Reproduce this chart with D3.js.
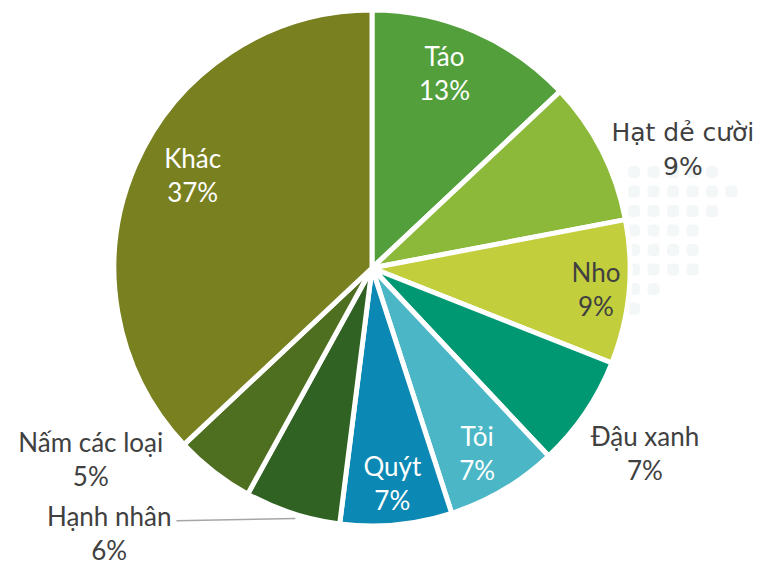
<!DOCTYPE html>
<html>
<head>
<meta charset="utf-8">
<script src="https://cdn.jsdelivr.net/npm/d3@7"></script>
<style>
  body { margin: 0; background: #fff; }
  svg { display: block; }
</style>
</head>
<body>
<svg id="chart" width="764" height="566"></svg>
<script>
'use strict';

// data, clockwise from 12 o'clock
var categories = ['Táo', 'Hạt dẻ cười', 'Nho', 'Đậu xanh', 'Tỏi', 'Quýt', 'Hạnh nhân', 'Nấm các loại', 'Khác'];
var shares = [13, 9, 9, 7, 7, 7, 6, 5, 37];
var colors = ['#529f3b', '#8cb93a', '#c2ce3c', '#009872', '#4ab6c6', '#0b88b3', '#306224', '#4f6f20', '#788020'];

// label layout: radius and angle nudge (degrees)
var labelStyle = {
  'Táo': {r: 208, nudge: -3, fill: '#fff'},
  'Hạt dẻ cười': {r: 333, nudge: 6, fill: '#404040', big: true},
  'Nho': {r: 225, nudge: 0, fill: '#404040'},
  'Đậu xanh': {r: 330, nudge: 0, fill: '#404040'},
  'Tỏi': {r: 213, nudge: 1, fill: '#fff'},
  'Quýt': {r: 216, nudge: 0, fill: '#fff'},
  'Hạnh nhân': {r: 373, nudge: 26.8, fill: '#404040', leader: true},
  'Nấm các loại': {r: 340, nudge: 18, fill: '#404040'},
  'Khác': {r: 202, nudge: 4, fill: '#fff'}
};

var cx = 372, cy = 268, R = 258;
var svg = d3.select('#chart');

// faint dotted decoration in the background
var dotRows = [[634, 5], [634, 6], [634, 5], [634, 4], [634, 4], [634, 4], [634, 2], [634, 1]];
var deco = svg.append('g').attr('fill', '#f4f7f8');
dotRows.forEach(function (row, i) {
  d3.range(row[1]).forEach(function (j) {
    deco.append('rect')
      .attr('x', row[0] + j * 19.5 - 6).attr('y', 172 + i * 19.5 - 6)
      .attr('width', 12).attr('height', 12).attr('rx', 4);
  });
});

var data = categories.map(function (c, i) {
  return {name: c, value: shares[i], color: colors[i]};
});

var pie = d3.pie().sort(null).value(function (d) { return d.value; });
var arc = d3.arc().innerRadius(0).outerRadius(R);
var arcs = pie(data);

var g = svg.append('g').attr('transform', 'translate(' + cx + ',' + cy + ')');

g.selectAll('.slice')
  .data(arcs).enter().append('path')
  .attr('class', 'slice')
  .attr('d', arc)
  .attr('fill', function (d) { return d.data.color; })
  .attr('stroke', '#fff')
  .attr('stroke-width', 5)
  .attr('stroke-linejoin', 'round');

function polar(r, a) {
  return [r * Math.sin(a), -r * Math.cos(a)];
}

arcs.forEach(function (d) {
  var st = labelStyle[d.data.name];
  var mid = (d.startAngle + d.endAngle) / 2 + st.nudge * Math.PI / 180;
  var p = polar(st.r, mid);
  var lh = 34;
  var t = g.append('text')
    .attr('x', p[0]).attr('y', p[1] - lh / 2)
    .attr('text-anchor', 'middle')
    .attr('dominant-baseline', 'central')
    .attr('fill', st.fill)
    .style('font-family', st.big ? '"DejaVu Sans", sans-serif' : 'Lato, "Open Sans", sans-serif')
    .style('font-size', st.big ? '25px' : '26px');
  t.append('tspan').attr('x', p[0]).text(d.data.name);
  t.append('tspan').attr('x', p[0]).attr('dy', lh).text(d.data.value + '%');

  if (st.leader) {
    var box = t.node().getBBox();
    var a2 = (d.startAngle + d.endAngle) / 2 - 1 * Math.PI / 180;
    var q = polar(R + 4, a2);
    g.insert('line', 'text')
      .attr('x1', box.x + box.width + 5).attr('y1', p[1] - lh / 2 + 5)
      .attr('x2', q[0]).attr('y2', q[1])
      .attr('stroke', '#a6a6a6').attr('stroke-width', 1.5);
  }
});
</script>
</body>
</html>
